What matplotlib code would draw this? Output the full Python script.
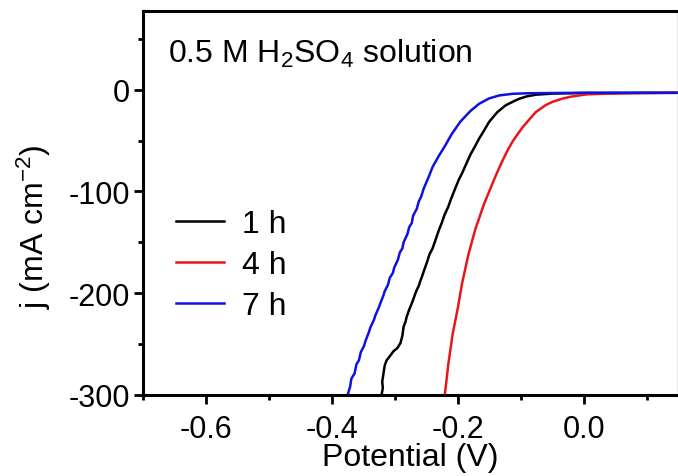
import matplotlib
matplotlib.use("Agg")
import matplotlib.pyplot as plt
from matplotlib.ticker import MultipleLocator

plt.rcParams["font.family"] = ["Liberation Sans", "DejaVu Sans"]
plt.rcParams["mathtext.fontset"] = "custom"
plt.rcParams["mathtext.rm"] = "Liberation Sans"
plt.rcParams["mathtext.it"] = "Liberation Sans:italic"
plt.rcParams["axes.unicode_minus"] = False

# 1 h
pot_1h = [-0.321, -0.319, -0.320, -0.318, -0.316, -0.313, -0.308, -0.302, -0.296, -0.291,
          -0.288, -0.286, -0.283, -0.281, -0.277, -0.273, -0.270, -0.266, -0.262, -0.260,
          -0.257, -0.252, -0.248, -0.245, -0.240, -0.236, -0.230, -0.226, -0.221, -0.215,
          -0.211, -0.204, -0.198, -0.193, -0.188, -0.180, -0.172, -0.166, -0.160, -0.150,
          -0.137, -0.124, -0.110, -0.102, -0.090, -0.076, -0.050, 0.000, 0.150]
j_1h = [-300, -293, -287, -279, -271, -266, -262, -257, -254, -249,
        -242, -233, -228, -223, -216, -210, -205, -198, -193, -189,
        -184, -175, -168, -162, -156, -149, -138, -132, -123, -115,
        -108, -97, -88, -82, -75, -64, -55, -48, -42, -31.5,
        -22, -15.4, -11, -8.8, -6.5, -4.9, -3.8, -3.2, -3.0]

# 4 h
pot_4h = [-0.2205, -0.215, -0.208, -0.200, -0.193, -0.183, -0.172, -0.158, -0.148, -0.142,
          -0.135, -0.129, -0.122, -0.113, -0.104, -0.097, -0.086, -0.076, -0.060, -0.049,
          -0.035, -0.022, 0.004, 0.030, 0.080, 0.150]
j_4h = [-300, -270, -240, -215, -190, -162, -137, -112, -97, -88,
        -78, -70, -61, -51, -43, -37, -29, -22, -15, -11.8,
        -9, -7, -4.6, -4, -3.4, -3.0]

# 7 h
pot_7h = [-0.375, -0.371, -0.369, -0.364, -0.361, -0.357, -0.354, -0.349, -0.346, -0.341,
          -0.339, -0.333, -0.331, -0.326, -0.323, -0.318, -0.316, -0.311, -0.308, -0.303,
          -0.301, -0.295, -0.292, -0.288, -0.286, -0.280, -0.277, -0.273, -0.271, -0.265,
          -0.262, -0.258, -0.254, -0.247, -0.240, -0.230, -0.220, -0.210, -0.196, -0.180,
          -0.166, -0.150, -0.134, -0.113, -0.090, -0.060, 0.000, 0.150]
j_7h = [-300, -292, -284, -279, -270, -266, -258, -252, -246, -238,
        -234, -226, -222, -215, -210, -202, -198, -192, -185, -180,
        -175, -167, -160, -156, -150, -142, -135, -131, -124, -117,
        -110, -105, -97, -87, -76, -65, -55, -44, -31.5, -21,
        -13.8, -8.5, -5.6, -4, -3.5, -3.3, -3.0, -3.0]

fig = plt.figure(figsize=(6.78, 4.77), dpi=100)
ax = fig.add_axes([0.211, 0.170, 0.789, 0.804])

ax.plot(pot_1h, j_1h, color="black", lw=1.8, label="1 h")
ax.plot(pot_4h, j_4h, color="#e8161b", lw=1.8, label="4 h")
ax.plot(pot_7h, j_7h, color="#1010e0", lw=1.8, label="7 h")

ax.set_xlim(-0.7, 0.15)
ax.set_ylim(-300, 77)
ax.xaxis.set_major_locator(MultipleLocator(0.2))
ax.xaxis.set_minor_locator(MultipleLocator(0.1))
ax.yaxis.set_major_locator(MultipleLocator(100))
ax.yaxis.set_minor_locator(MultipleLocator(50))
ax.xaxis.set_major_formatter(plt.FuncFormatter(lambda v, p: f"{v:.1f}".replace("-0.0", "0.0")))

ax.tick_params(which="both", direction="out", width=2.0, labelsize=22, top=False, right=False)
ax.tick_params(which="major", length=6.5)
ax.tick_params(which="minor", length=3.8)
ax.tick_params(axis="x", which="major", pad=7)
ax.tick_params(axis="y", which="major", pad=3)
for s in ax.spines.values():
    s.set_linewidth(2.2)
ax.spines["right"].set_linewidth(1.0)
ax.spines["right"].set_color("#999999")

ax.set_xlabel("Potential (V)", fontsize=23)
ax.xaxis.set_label_coords(0.5, -0.123)
ax.set_ylabel("j (mA cm$^{-2}$)", fontsize=23)
ax.yaxis.set_label_coords(-0.168, 0.44)

ax.text(0.047, 0.868, "0.5 M H$_2$SO$_4$ solution", transform=ax.transAxes,
        fontsize=23, va="baseline")

ax.legend(loc="upper left", bbox_to_anchor=(0.062, 0.484), frameon=False, fontsize=23,
          handlelength=1.5, handletextpad=0.55, labelspacing=0.34,
          borderpad=0, borderaxespad=0)

fig.savefig("out.png", dpi=100)
